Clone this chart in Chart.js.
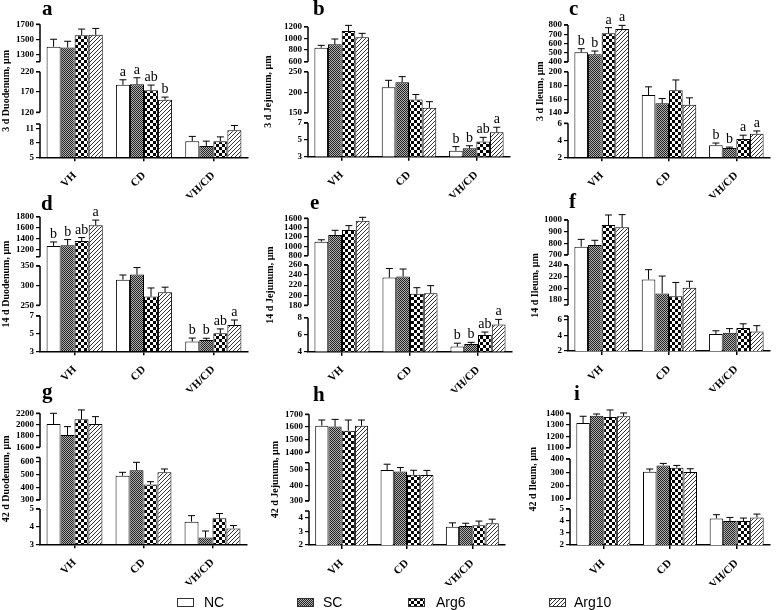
<!DOCTYPE html>
<html>
<head>
<meta charset="utf-8">
<script src="https://cdn.jsdelivr.net/npm/chart.js@4.4.1/dist/chart.umd.min.js"></script>
<style>
  html, body { margin: 0; padding: 0; background: #fff; }
  #wrap { position: relative; width: 778px; height: 610px; overflow: hidden; }
  #wrap canvas.panel { position: absolute; left: 0; top: 0; }
  .sw { position: absolute; top: 598px; }
  .lg { position: absolute; top: 594px; font: 14px "Liberation Sans", Arial, sans-serif; line-height: 16px; color: #000; }
</style>
</head>
<body>
<div id="wrap">
  <canvas class="panel" id="pa" width="778" height="610"></canvas>
  <canvas class="panel" id="pb" width="778" height="610"></canvas>
  <canvas class="panel" id="pc" width="778" height="610"></canvas>
  <canvas class="panel" id="pd" width="778" height="610"></canvas>
  <canvas class="panel" id="pe" width="778" height="610"></canvas>
  <canvas class="panel" id="pf" width="778" height="610"></canvas>
  <canvas class="panel" id="pg" width="778" height="610"></canvas>
  <canvas class="panel" id="ph" width="778" height="610"></canvas>
  <canvas class="panel" id="pi" width="778" height="610"></canvas>

  <canvas class="sw" id="sw0" width="17" height="9" style="left:177px"></canvas><div class="lg" style="left:204px">NC</div>
  <canvas class="sw" id="sw1" width="17" height="9" style="left:297px"></canvas><div class="lg" style="left:323px">SC</div>
  <canvas class="sw" id="sw2" width="17" height="9" style="left:408px"></canvas><div class="lg" style="left:436px">Arg6</div>
  <canvas class="sw" id="sw3" width="17" height="9" style="left:549px"></canvas><div class="lg" style="left:574px">Arg10</div>
</div>

<script>
// categorias del eje x y grupos (tratamientos)
const categories = ['VH', 'CD', 'VH/CD'];
const groups = ['NC', 'SC', 'Arg6', 'Arg10'];

// filas: NC, SC, Arg6, Arg10 -- columnas: VH, CD, VH/CD
// 3 d Duodenum
const duo3Mean = [[1400, 187.5, 8.4], [1390, 189, 7.4], [1555, 174, 8.4], [1559, 151, 10.7]];
const duo3Sem  = [[100, 12.5, 1.0], [83, 16, 1.0], [81, 13, 0.9], [86, 6.5, 1.0]];
const duo3Sig  = [['', 'a', ''], ['', 'a', ''], ['', 'ab', ''], ['', 'b', '']];
const duo3Ticks = [5, 8, 11, 120, 170, 220, 1300, 1500, 1700];

// 3 d Jejunum
const jej3Mean = [[840, 212, 3.7], [897, 224, 4.0], [1126, 182.5, 4.8], [1017, 162, 5.9]];
const jej3Sem  = [[40, 17, 0.5], [92, 14, 0.3], [97, 12, 0.5], [69, 15, 0.6]];
const jej3Sig  = [['', '', 'b'], ['', '', 'b'], ['', '', 'ab'], ['', '', 'a']];
const jej3Ticks = [3, 5, 7, 150, 200, 250, 600, 800, 1000, 1200];

// 3 d Ileum
const ile3Mean = [[505, 166, 3.41], [483, 154, 3.1], [710, 173, 4.15], [757, 152, 4.78]];
const ile3Sem  = [[39, 12, 0.27], [36, 7, 0.1], [61, 15, 0.45], [39, 10, 0.32]];
const ile3Sig  = [['b', '', 'b'], ['b', '', 'b'], ['a', '', 'a'], ['a', '', 'a']];
const ile3Ticks = [2, 4, 6, 140, 160, 180, 200, 400, 500, 600, 700, 800];

// 14 d Duodenum
const duo14Mean = [[1273, 315, 4.1], [1285, 328, 4.28], [1364, 272, 5.04], [1648, 283, 5.98]];
const duo14Sem  = [[72, 12, 0.4], [103, 18, 0.2], [60, 22, 0.5], [91, 13, 0.57]];
const duo14Sig  = [['b', '', 'b'], ['b', '', 'b'], ['ab', '', 'ab'], ['a', '', 'a']];
const duo14Ticks = [3, 5, 7, 250, 300, 350, 1200, 1400, 1600, 1800];

// 14 d Jejunum
const jej14Mean = [[1100, 235, 4.6], [1243, 237, 4.9], [1350, 203, 5.96], [1550, 204, 7.2]];
const jej14Sem  = [[40, 18, 0.4], [100, 15, 0.2], [93, 12, 0.35], [71, 15, 0.6]];
const jej14Sig  = [['', '', 'b'], ['', '', 'b'], ['', '', 'ab'], ['', '', 'a']];
const jej14Ticks = [4, 6, 8, 180, 200, 220, 240, 260, 800, 1000, 1200, 1400, 1600];

// 14 d Ileum
const ile14Mean = [[771, 215, 4.19], [786, 191, 4.36], [957, 186, 4.97], [937, 201, 4.5]];
const ile14Sem  = [[63, 17, 0.41], [40, 30, 0.52], [86, 24, 0.53], [109, 11, 0.76]];
const ile14Ticks = [2, 4, 6, 180, 200, 220, 240, 700, 800, 900, 1000];

// 42 d Duodenum
const duo42Mean = [[2012, 490, 4.28], [1818, 532, 3.38], [2094, 422, 4.47], [2012, 516, 3.9]];
const duo42Sem  = [[188, 26, 0.34], [147, 62, 0.37], [165, 21, 0.27], [129, 26, 0.16]];
const duo42Ticks = [3, 4, 5, 300, 400, 500, 600, 1600, 1800, 2000, 2200];

// 42 d Jejunum
const jej42Mean = [[1610, 500, 3.34], [1603, 490, 3.39], [1571, 469, 3.46], [1610, 467, 3.6]];
const jej42Sem  = [[45, 37, 0.29], [57, 26, 0.21], [84, 29, 0.3], [45, 30, 0.3]];
const jej42Ticks = [2, 3, 4, 300, 400, 500, 1400, 1500, 1600, 1700];

// 42 d Ileum
const ile42Mean = [[1315, 305, 4.22], [1379, 352, 4.0], [1368, 335, 4.0], [1374, 302, 4.3]];
const ile42Sem  = [[59, 20, 0.31], [15, 15, 0.3], [61, 17, 0.25], [29, 25, 0.28]];
const ile42Ticks = [2, 3, 4, 5, 100, 200, 300, 400, 1100, 1200, 1300, 1400];

// --- layout de cada panel: tramos del eje roto [min, max, fraccion inicio, fraccion fin],
//     caja del area [ejeX, derecha, arriba, abajo], ancho eje y, posicion de la letra
const panels = [
  { id: 'pa', tag: 'a', title: '3 d Duodenum, μm', mean: duo3Mean, sem: duo3Sem, sig: duo3Sig, ticks: duo3Ticks,
    segs: [[5, 12, 0, 0.25], [120, 220, 0.338, 0.644], [1200, 1700, 0.719, 1]],
    box: [40, 248, 24.3, 157.3], yw: 42, tagAt: [42, 15] },
  { id: 'pb', tag: 'b', title: '3 d Jejunum, μm', mean: jej3Mean, sem: jej3Sem, sig: jej3Sig, ticks: jej3Ticks,
    segs: [[3, 7, 0, 0.259], [150, 250, 0.338, 0.654], [600, 1200, 0.731, 1]],
    box: [308, 510, 26.7, 156.7], yw: 48, tagAt: [313, 15] },
  { id: 'pc', tag: 'c', title: '3 d Ileum, μm', mean: ile3Mean, sem: ile3Sem, sig: ile3Sig, ticks: ile3Ticks,
    segs: [[2, 6, 0, 0.257], [140, 200, 0.335, 0.647], [400, 800, 0.72, 1]],
    box: [568, 770, 25, 157.3], yw: 36, tagAt: [569, 15] },
  { id: 'pd', tag: 'd', title: '14 d Duodenum, μm', mean: duo14Mean, sem: duo14Sem, sig: duo14Sig, ticks: duo14Ticks,
    segs: [[3, 7, 0, 0.262], [250, 350, 0.342, 0.634], [1080, 1800, 0.703, 1]],
    box: [40, 248, 216.7, 351.3], yw: 42, tagAt: [41, 210] },
  { id: 'pe', tag: 'e', title: '14 d Jejunum, μm', mean: jej14Mean, sem: jej14Sem, sig: jej14Sig, ticks: jej14Ticks,
    segs: [[4, 8, 0, 0.255], [180, 260, 0.3475, 0.65], [800, 1600, 0.72, 1]],
    box: [308, 512, 218.3, 351.7], yw: 46, tagAt: [310, 209] },
  { id: 'pf', tag: 'f', title: '14 d Ileum, μm', mean: ile14Mean, sem: ile14Sem, sig: null, ticks: ile14Ticks,
    segs: [[2, 6.5, 0, 0.267], [171, 240, 0.351, 0.656], [700, 1000, 0.733, 1]],
    box: [568, 770, 220, 351], yw: 41, tagAt: [569, 208] },
  { id: 'pg', tag: 'g', title: '42 d Duodenum, μm', mean: duo42Mean, sem: duo42Sem, sig: null, ticks: duo42Ticks,
    segs: [[3, 5, 0, 0.27], [300, 631, 0.338, 0.662], [1600, 2200, 0.74, 1]],
    box: [40, 247, 413.3, 544.3], yw: 42, tagAt: [42, 398] },
  { id: 'ph', tag: 'h', title: '42 d Jejunum, μm', mean: jej42Mean, sem: jej42Sem, sig: null, ticks: jej42Ticks,
    segs: [[2, 4.5, 0, 0.26], [300, 547, 0.337, 0.63], [1400, 1700, 0.709, 1]],
    box: [309, 505, 414.3, 545], yw: 42, tagAt: [313, 401] },
  { id: 'pi', tag: 'i', title: '42 d Ileum, μm', mean: ile42Mean, sem: ile42Sem, sig: null, ticks: ile42Ticks,
    segs: [[2, 5, 0, 0.273], [100, 400, 0.349, 0.653], [1100, 1400, 0.739, 1]],
    box: [570, 770, 413.3, 545], yw: 45, tagAt: [574, 400] }
];
const panelById = {};
panels.forEach(p => { panelById[p.id] = p; });

const XH = 40; // alto del eje x (etiquetas giradas)

// --- patrones de relleno
function makePattern(size, draw) {
  const c = document.createElement('canvas');
  c.width = c.height = size;
  const g = c.getContext('2d');
  g.fillStyle = '#fff';
  g.fillRect(0, 0, size, size);
  draw(g);
  return g.createPattern(c, 'repeat');
}
const fills = [
  '#fff',
  makePattern(2, g => { g.fillStyle = '#b0b0b0'; g.fillRect(0, 0, 2, 2); g.fillStyle = '#222'; g.fillRect(0, 0, 1, 1); g.fillRect(1, 1, 1, 1); }),
  makePattern(6, g => { g.fillStyle = '#000'; g.fillRect(0, 0, 3, 3); g.fillRect(3, 3, 3, 3); }),
  makePattern(4, g => { g.fillStyle = '#333'; for (let i = 0; i < 4; i++) g.fillRect(i, 3 - i, 1, 1); })
];

// --- escala con eje y roto en tramos
class BrokenScale extends Chart.LinearScale {
  static id = 'broken';
  panel() { return panelById[this.chart.canvas.id]; }
  determineDataLimits() {
    const s = this.panel().segs;
    this.min = s[0][0];
    this.max = s[s.length - 1][1];
  }
  buildTicks() {
    return this.panel().ticks.map(v => ({ value: v }));
  }
  fracForValue(v) {
    const s = this.panel().segs;
    if (v <= s[0][0]) return s[0][2];
    for (let i = 0; i < s.length; i++) {
      const [lo, hi, f0, f1] = s[i];
      if (v <= hi || i === s.length - 1) return f0 + (v - lo) / (hi - lo) * (f1 - f0);
      if (v < s[i + 1][0]) return f1;
    }
    return 1;
  }
  getPixelForValue(v) {
    return this.bottom - this.fracForValue(v) * (this.bottom - this.top);
  }
  getValueForPixel(px) {
    const f = (this.bottom - px) / (this.bottom - this.top);
    const s = this.panel().segs;
    for (const [lo, hi, f0, f1] of s) {
      if (f <= f1) return lo + Math.max(0, f - f0) / (f1 - f0) * (hi - lo);
    }
    const [lo, hi, f0, f1] = s[s.length - 1];
    return lo + (f - f0) / (f1 - f0) * (hi - lo);
  }
}
Chart.register(BrokenScale);

// --- barras de error, letras, eje roto y letra del panel
const panelDecor = {
  id: 'panelDecor',
  afterDatasetsDraw(chart) {
    const p = panelById[chart.canvas.id];
    const y = chart.scales.y;
    const ctx = chart.ctx;
    ctx.save();
    ctx.strokeStyle = '#000';
    ctx.fillStyle = '#000';
    chart.data.datasets.forEach((ds, i) => {
      chart.getDatasetMeta(i).data.forEach((bar, j) => {
        const top = y.getPixelForValue(ds.data[j] + ds.sem[j]);
        ctx.lineWidth = 1;
        ctx.beginPath();
        ctx.moveTo(bar.x, bar.y);
        ctx.lineTo(bar.x, top);
        ctx.moveTo(bar.x - 3.5, top);
        ctx.lineTo(bar.x + 3.5, top);
        ctx.stroke();
        if (ds.sig && ds.sig[j]) {
          ctx.font = '14px "Liberation Serif"';
          ctx.textAlign = 'center';
          ctx.textBaseline = 'alphabetic';
          ctx.fillText(ds.sig[j], bar.x, top - 4);
        }
      });
    });
    // eje y por tramos
    ctx.lineWidth = 1.5;
    const x = y.right;
    p.segs.forEach(([lo, hi], k) => {
      const y0 = y.getPixelForValue(lo), y1 = y.getPixelForValue(hi);
      ctx.beginPath();
      ctx.moveTo(x, y0);
      ctx.lineTo(x, y1);
      ctx.moveTo(x - 4, y1);
      ctx.lineTo(x, y1);
      if (k > 0) { ctx.moveTo(x - 4, y0); ctx.lineTo(x, y0); }
      ctx.stroke();
    });
    ctx.font = 'bold 21px "Liberation Serif"';
    ctx.textAlign = 'left';
    ctx.textBaseline = 'alphabetic';
    ctx.fillText(p.tag, p.tagAt[0], p.tagAt[1]);
    ctx.restore();
  }
};

Chart.defaults.color = '#000';
Chart.defaults.font.family = '"Liberation Serif", "Times New Roman", serif';

panels.forEach(p => {
  const [axisX, right, top, bottom] = p.box;
  new Chart(document.getElementById(p.id), {
    type: 'bar',
    data: {
      labels: categories,
      datasets: groups.map((name, g) => ({
        label: name,
        data: p.mean[g],
        sem: p.sem[g],
        sig: p.sig ? p.sig[g] : null,
        backgroundColor: fills[g],
        borderColor: '#000',
        borderWidth: 1,
        categoryPercentage: 0.81,
        barPercentage: 1.0
      }))
    },
    options: {
      responsive: false,
      animation: false,
      devicePixelRatio: 1,
      events: [],
      layout: { padding: { left: axisX - p.yw, top: top, right: 778 - right, bottom: 610 - bottom - XH } },
      plugins: { legend: { display: false }, tooltip: { enabled: false } },
      scales: {
        x: {
          type: 'category',
          offset: true,
          grid: { display: true, offset: false, drawOnChartArea: false, drawTicks: true, tickLength: 4, color: '#000', lineWidth: 1.5 },
          border: { display: true, color: '#000', width: 1.5 },
          ticks: { minRotation: 45, maxRotation: 45, padding: 8, autoSkip: false, font: { size: 11, weight: 'bold' } },
          afterFit: s => { s.height = XH; }
        },
        y: {
          type: 'broken',
          grid: { display: true, drawOnChartArea: false, drawTicks: true, tickLength: 4, color: '#000', lineWidth: 1.2 },
          border: { display: false },
          ticks: { autoSkip: false, padding: 2, font: { size: 9, weight: 'bold' }, callback: v => String(v) },
          title: { display: true, text: p.title, padding: { top: 2, bottom: 0 }, font: { size: 10, weight: 'bold' } },
          afterFit: s => { s.width = p.yw; }
        }
      }
    },
    plugins: [panelDecor]
  });
});

// muestras de la leyenda
fills.forEach((f, i) => {
  const c = document.getElementById('sw' + i);
  const g = c.getContext('2d');
  g.fillStyle = f;
  g.fillRect(0, 0, c.width, c.height);
  g.strokeStyle = '#333';
  g.lineWidth = 1;
  g.strokeRect(0.5, 0.5, c.width - 1, c.height - 1);
});
</script>
</body>
</html>
